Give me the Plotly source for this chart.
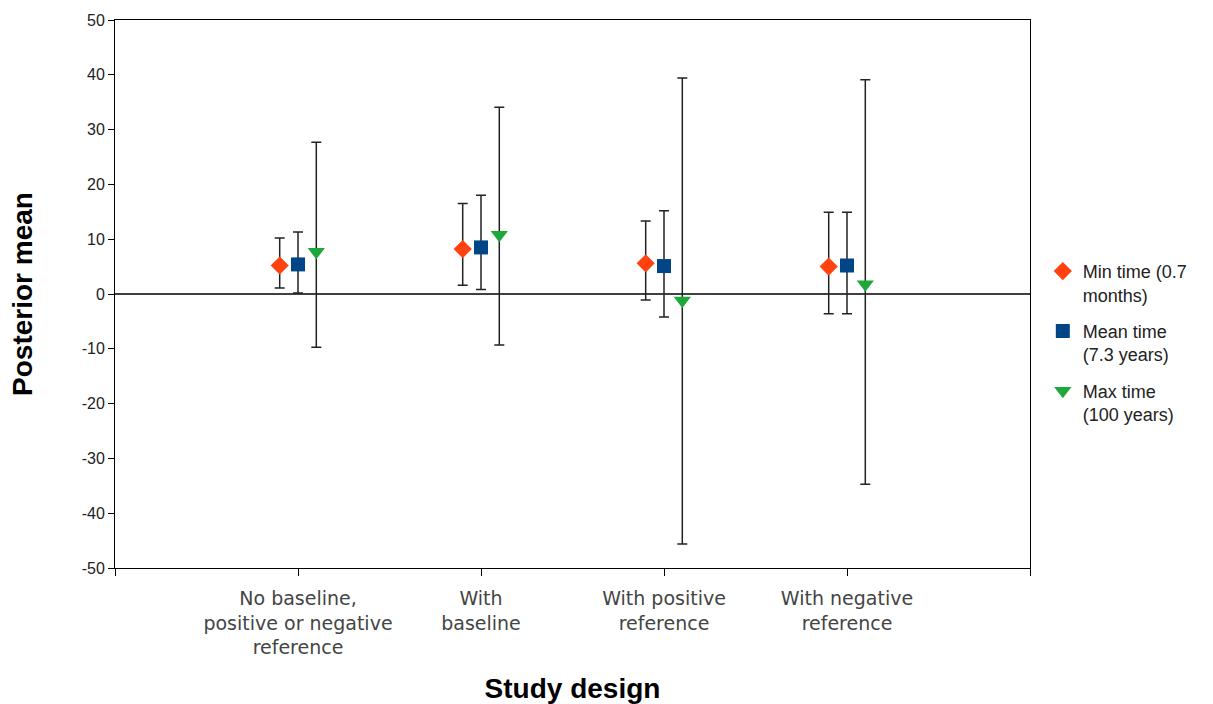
import plotly.graph_objects as go

# Study designs on the x axis
categories = [
    "No baseline,<br>positive or negative<br>reference",
    "With<br>baseline",
    "With positive<br>reference",
    "With negative<br>reference",
]

# Posterior means with lower / upper interval bounds per series
min_mean = [5.2, 8.2, 5.6, 5.0]
min_low = [1.1, 1.6, -1.1, -3.6]
min_high = [10.2, 16.5, 13.3, 14.9]

mean_mean = [5.4, 8.5, 5.1, 5.2]
mean_low = [0.2, 0.8, -4.2, -3.6]
mean_high = [11.3, 18.0, 15.2, 14.9]

max_mean = [7.7, 10.8, -1.2, 1.8]
max_low = [-9.7, -9.3, -45.6, -34.7]
max_high = [27.7, 34.1, 39.4, 39.1]

y_ticks = [-50, -40, -30, -20, -10, 0, 10, 20, 30, 40, 50]
y_tick_text = ["-50", "-40", "-30", "-20", "-10", "0", "10", "20", "30", "40", "50"]

series = [
    ("Min time (0.7<br>months)", min_mean, min_low, min_high, -0.1, "diamond", "#ff420e", 14),
    ("Mean time<br>(7.3 years)", mean_mean, mean_low, mean_high, 0.0, "square", "#004586", 14),
    ("Max time<br>(100 years)", max_mean, max_low, max_high, 0.1, "triangle-down", "#1fa83a", 15),
]

fig = go.Figure()
for i, (name, m, lo, hi, off, sym, col, size) in enumerate(series):
    xs = [k + 1 + off for k in range(len(categories))]
    fig.add_trace(go.Scatter(
        x=xs, y=m, mode="markers", name=name, legendgroup=str(i),
        marker=dict(symbol=sym, color=col, size=size, line=dict(width=0)),
        error_y=dict(
            type="data", symmetric=False,
            array=[h - v for h, v in zip(hi, m)],
            arrayminus=[v - l for v, l in zip(m, lo)],
            color="#222222", thickness=1.5, width=5,
        ),
    ))

fig.add_hline(y=0, line=dict(color="black", width=1.3), layer="below")

fig.update_layout(
    width=1213, height=704,
    margin=dict(l=115, r=183, t=20, b=136),
    paper_bgcolor="white", plot_bgcolor="white",
    font=dict(family="Liberation Sans, Arial, sans-serif", color="#222222"),
    showlegend=True,
    legend=dict(
        x=1.014, y=0.575, xanchor="left", yanchor="top",
        font=dict(size=18, color="#222222"),
        traceorder="grouped", tracegroupgap=10,
        itemwidth=30, valign="top", bgcolor="rgba(0,0,0,0)",
    ),
    xaxis=dict(
        range=[0, 5],
        automargin=False,
        tickmode="array",
        tickvals=[0, 1, 2, 3, 4, 5],
        ticktext=[""] + categories + [""],
        ticks="outside", ticklen=7, tickcolor="black", tickwidth=1,
        ticklabelstandoff=6,
        showline=True, linecolor="black", linewidth=1, mirror=True,
        showgrid=False, zeroline=False,
        tickfont=dict(family="DejaVu Sans, sans-serif", size=19, color="#444444"),
        title=dict(text="<b>Study design</b>", font=dict(size=28, color="black"), standoff=24),
    ),
    yaxis=dict(
        range=[-50, 50],
        automargin=False,
        tickmode="array", tickvals=y_ticks, ticktext=y_tick_text,
        ticks="outside", ticklen=6, tickcolor="black", tickwidth=1,
        showline=True, linecolor="black", linewidth=1, mirror=True,
        showgrid=False, zeroline=False,
        tickfont=dict(size=16, color="#222222"),
        title=dict(text="<b>Posterior mean</b>", font=dict(size=28, color="black"), standoff=40),
    ),
)

fig.write_html("out.html")
